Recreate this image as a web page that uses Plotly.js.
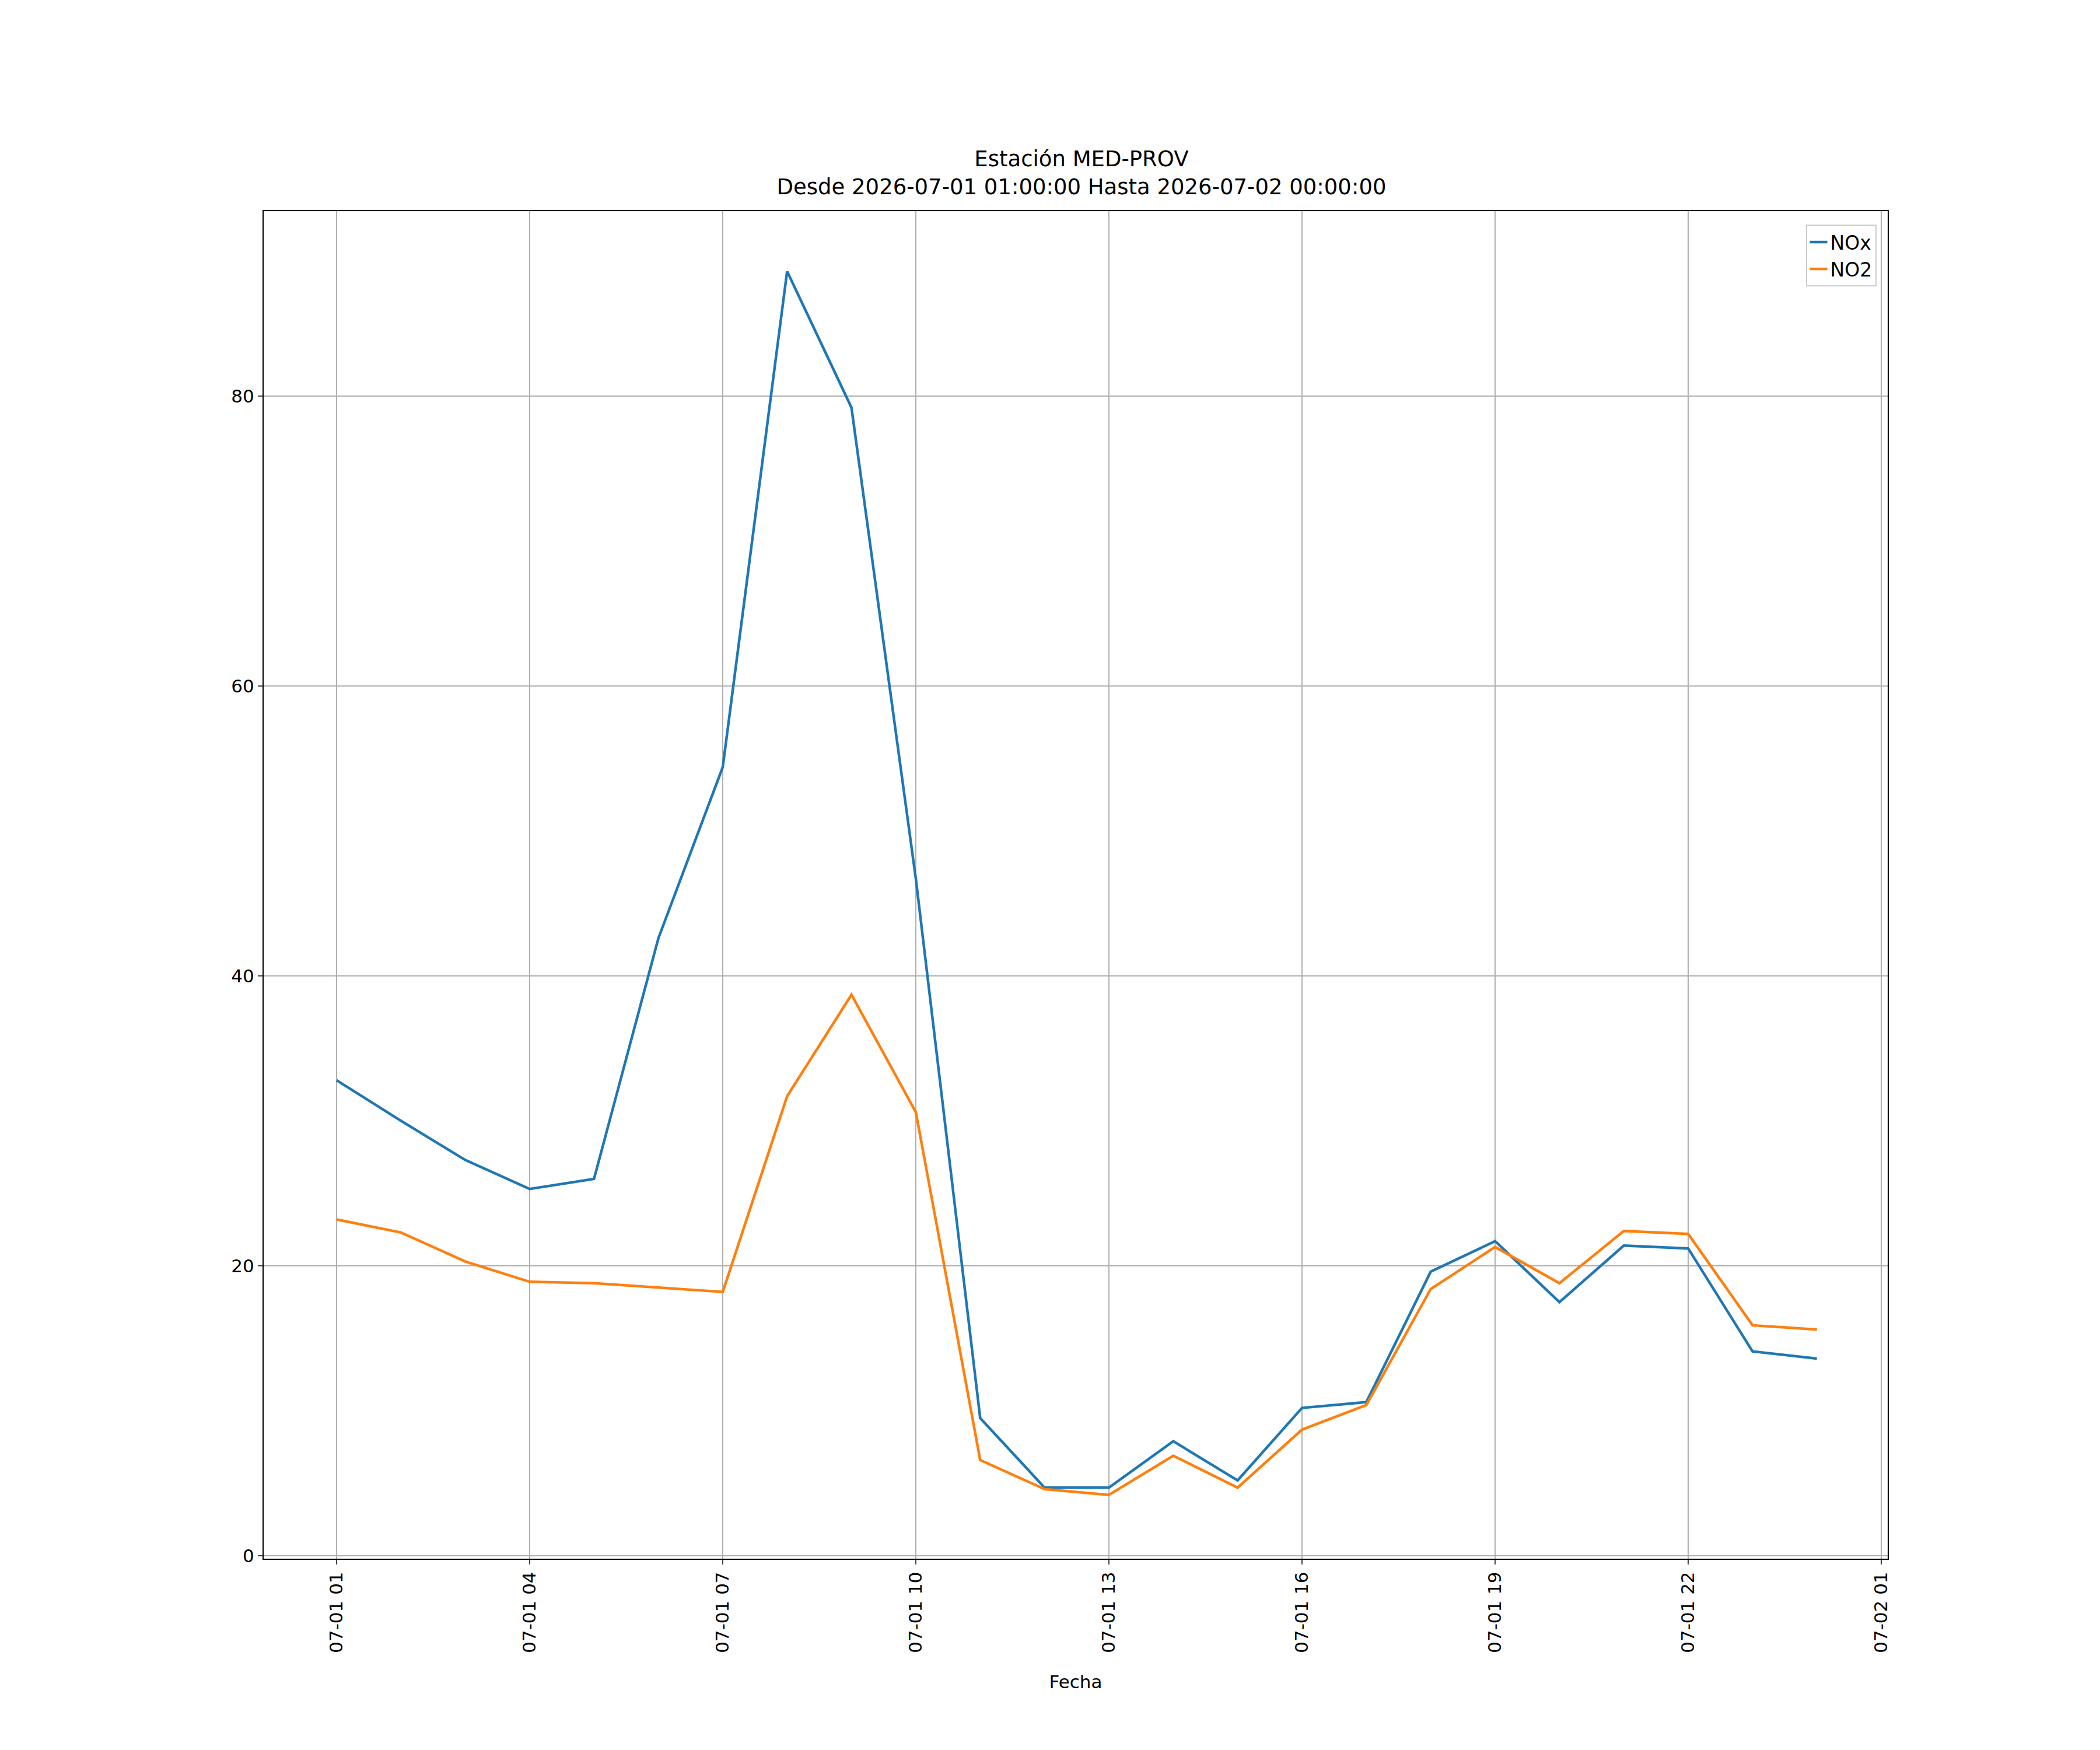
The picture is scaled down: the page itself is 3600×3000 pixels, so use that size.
<!DOCTYPE html>
<html>
<head>
<meta charset="utf-8">
<script src="https://cdn.plot.ly/plotly-3.0.1.min.js"></script>
<style>body{margin:0;background:#fff}</style>
</head>
<body>
<div id="plot" style="width:3600px;height:3000px"></div>
<script>
const fechas = ['2026-07-01 01:00','2026-07-01 02:00','2026-07-01 03:00','2026-07-01 04:00','2026-07-01 05:00','2026-07-01 06:00',
  '2026-07-01 07:00','2026-07-01 08:00','2026-07-01 09:00','2026-07-01 10:00','2026-07-01 11:00','2026-07-01 12:00',
  '2026-07-01 13:00','2026-07-01 14:00','2026-07-01 15:00','2026-07-01 16:00','2026-07-01 17:00','2026-07-01 18:00',
  '2026-07-01 19:00','2026-07-01 20:00','2026-07-01 21:00','2026-07-01 22:00','2026-07-01 23:00','2026-07-02 00:00']
const nox = [32.8,30.0,27.3,25.3,26.0,42.6,54.4,88.6,79.2,46.7,9.5,4.7,4.7,7.9,5.2,10.2,10.6,19.6,21.7,17.5,21.4,21.2,14.1,13.6]
const no2 = [23.2,22.3,20.3,18.9,18.8,18.5,18.2,31.7,38.7,30.6,6.6,4.6,4.2,6.9,4.7,8.7,10.4,18.4,21.3,18.8,22.4,22.2,15.9,15.6]

const font = {family: 'DejaVu Sans', size: 31, color: '#000'}

Plotly.newPlot('plot', [
  {x: fechas, y: nox, name: 'NOx', type: 'scatter', mode: 'lines', line: {color: '#1f77b4', width: 4.5}},
  {x: fechas, y: no2, name: 'NO2', type: 'scatter', mode: 'lines', line: {color: '#ff7f0e', width: 4.5}}
], {
  width: 3600, height: 3000,
  font: font,
  paper_bgcolor: '#fff', plot_bgcolor: '#fff',
  margin: {l: 452, r: 364, t: 362, b: 328},
  title: {text: 'Estación MED-PROV<br>Desde 2026-07-01 01:00:00 Hasta 2026-07-02 00:00:00',
    font: {family: 'DejaVu Sans', size: 37}, x: 0.515, xanchor: 'center', y: 0.905, yanchor: 'bottom'},
  showlegend: true,
  legend: {x: 0.993, y: 0.99, xanchor: 'right', yanchor: 'top', bordercolor: '#ccc', borderwidth: 2,
    bgcolor: 'rgba(255,255,255,0.8)', font: {family: 'DejaVu Sans', size: 33}},
  xaxis: {
    type: 'date', range: ['2026-06-30 23:52', '2026-07-02 01:06'],
    tick0: '2026-07-01 01:00', dtick: 3 * 3600 * 1000, tickformat: '%m-%d %H', tickangle: -90,
    showgrid: true, gridcolor: '#b0b0b0', gridwidth: 2,
    ticks: 'outside', ticklen: 8, tickwidth: 2, showline: true, linecolor: '#000', linewidth: 2, mirror: true,
    zeroline: false,
    title: {text: 'Fecha', font: {family: 'DejaVu Sans', size: 31}, standoff: 40}
  },
  yaxis: {
    range: [-0.2, 92.75], dtick: 20,
    showgrid: true, gridcolor: '#b0b0b0', gridwidth: 2,
    ticks: 'outside', ticklen: 8, tickwidth: 2, showline: true, linecolor: '#000', linewidth: 2, mirror: true,
    zeroline: false
  }
}, {displayModeBar: false})
</script>
</body>
</html>
